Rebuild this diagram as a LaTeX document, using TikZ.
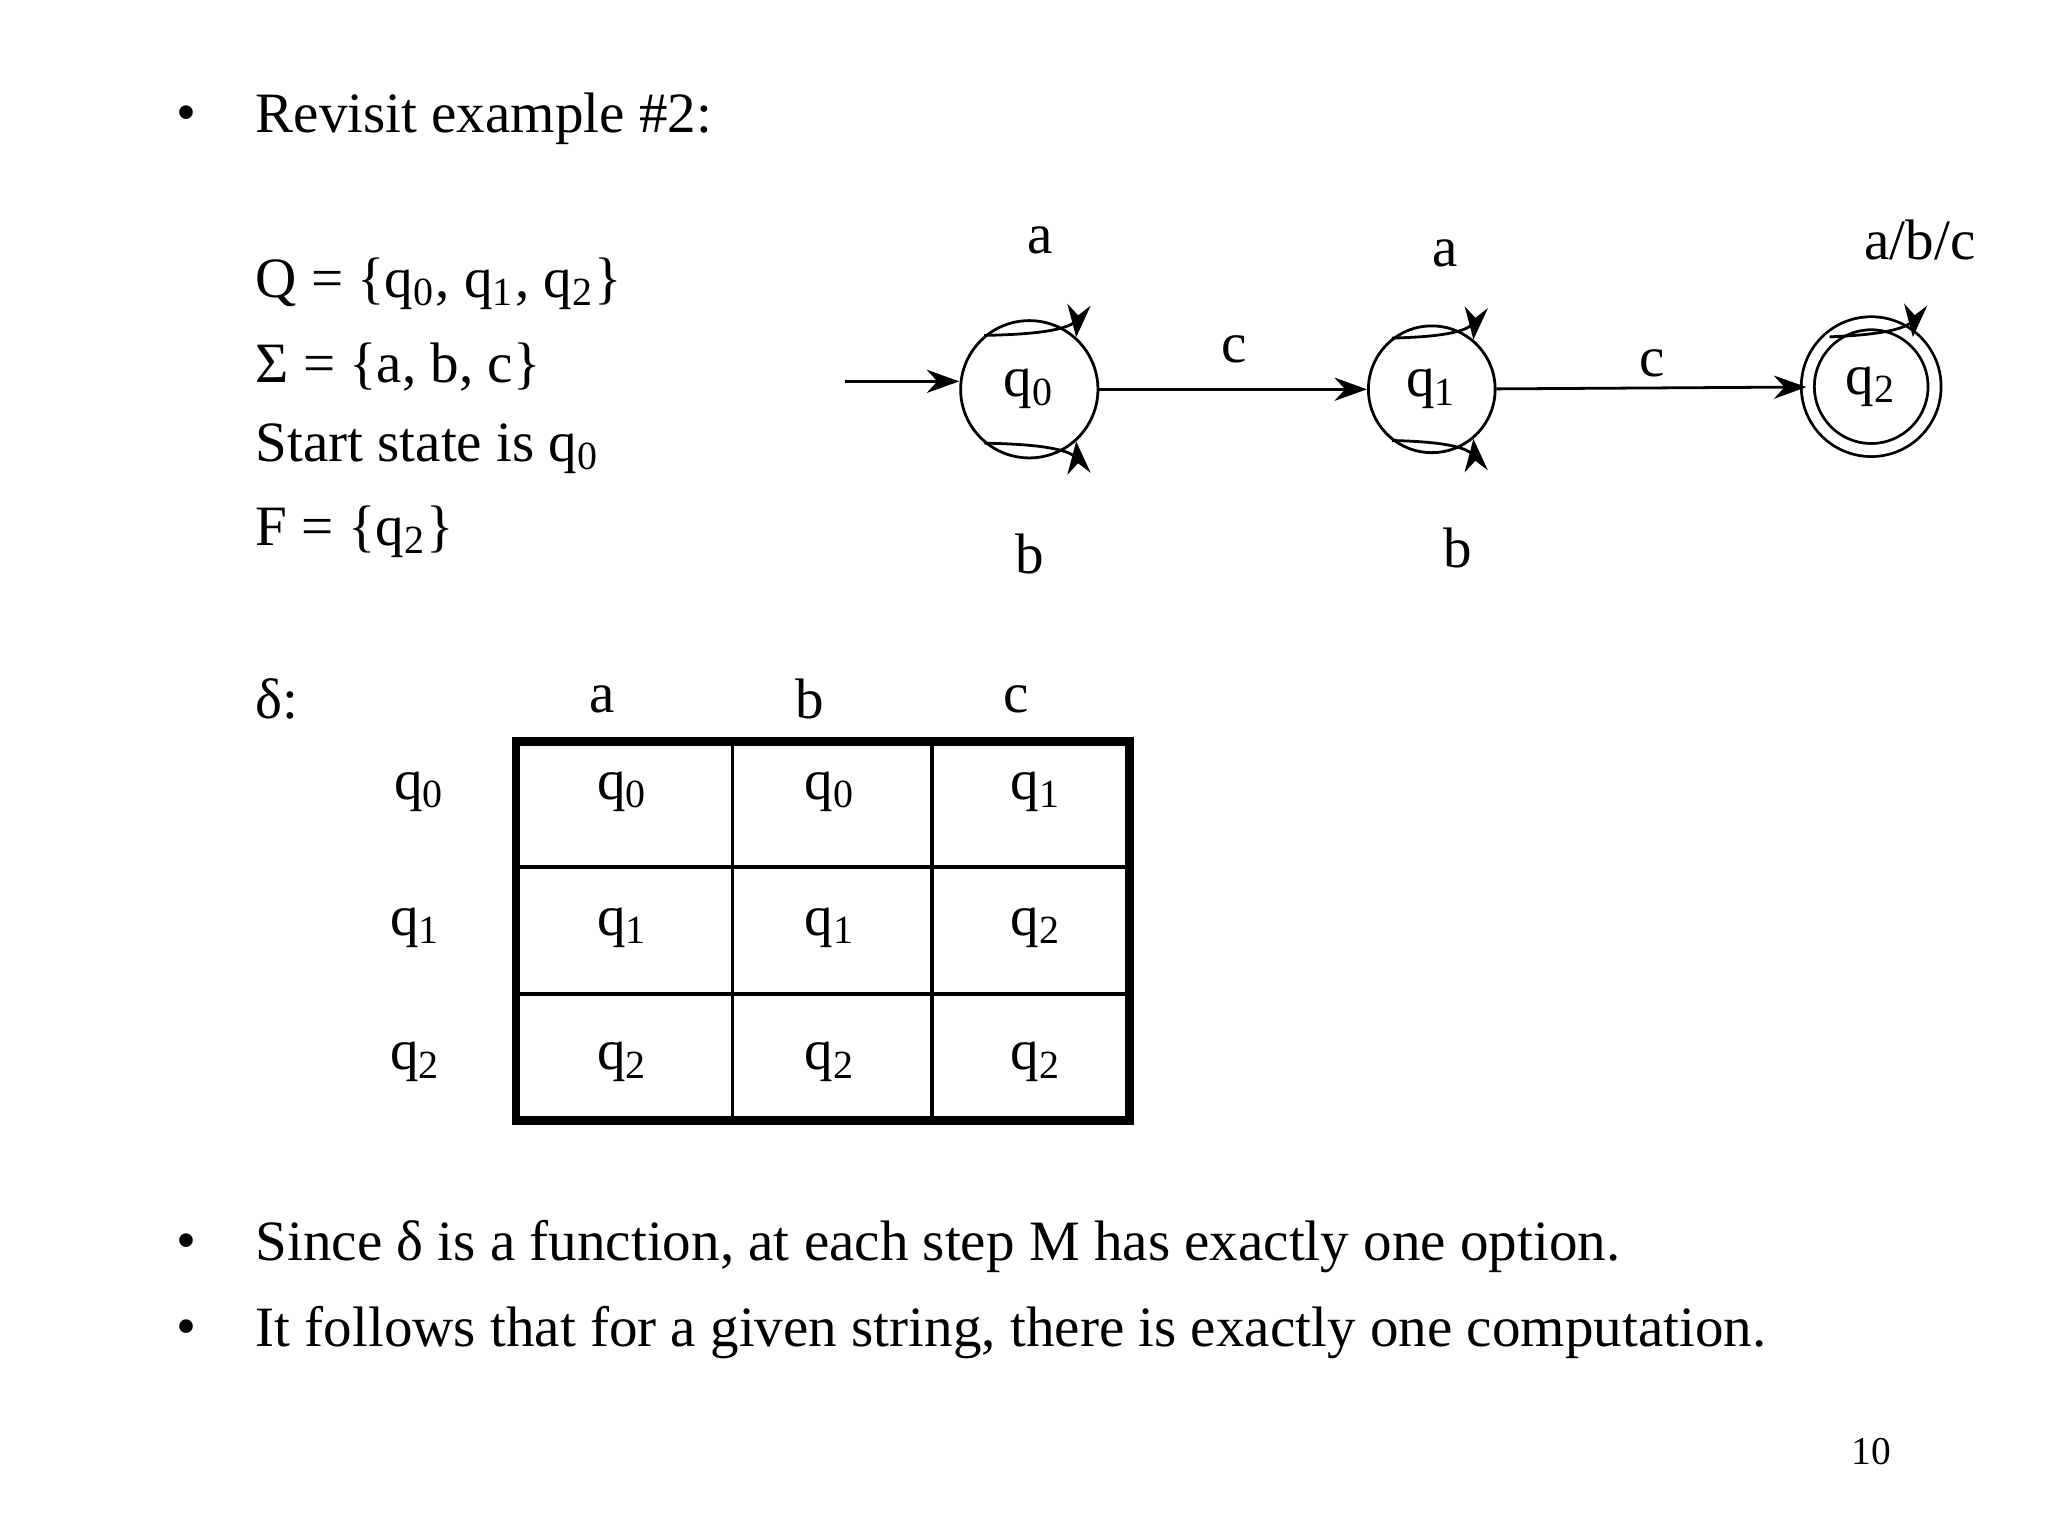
\documentclass[tikz,border=0pt]{standalone}
\usepackage{fontspec}
\setmainfont{Liberation Serif}
\usetikzlibrary{arrows.meta}
\begin{document}
\begin{tikzpicture}[x=0.01cm,y=-0.01cm,
  txt/.style={font=\fontsize{12.3}{15}\selectfont,inner sep=0pt},
  st/.style={circle,draw,line width=0.6pt,font=\fontsize{12.3}{15}\selectfont},
  arr/.style={-{Stealth[length=7pt,width=5pt]},line width=0.6pt},
  thk/.style={line width=1.8pt}]
\useasboundingbox (0,0) rectangle (1552,1164);
\newcommand{\qq}[1]{q\textsubscript{#1}}
\node[txt,anchor=west] (b1) at (133,90) {•};
\node[txt,anchor=west] (t1) at (193,90) {Revisit example \#2:};
\node[txt,anchor=west] (l1) at (193,215) {Q = \{\qq0, \qq1, \qq2\}};
\node[txt,anchor=west] (l2) at (193,278) {Σ = \{a, b, c\}};
\node[txt,anchor=west] (l3) at (193,340) {Start state is \qq0};
\node[txt,anchor=west] (l4) at (193,403) {F = \{\qq2\}};
% automaton
\node[st,minimum size=1.04cm] (q0) at (780,295) {\qq0};
\node[st,minimum size=0.96cm] (q1) at (1085,295) {\qq1};
\node[st,minimum size=0.96cm,double,double distance=2.2pt] (q2) at (1418,293) {\qq2};
\coordinate (s) at (640,289);
\draw[arr] (s) -- (q0.west|-s);
\draw[arr] (q0.east|-q1) -- (q1);
\draw[arr] (q1) -- (q2);
\node[txt] (c1) at (935,265) {c};
\node[txt] (c2) at (1252,275) {c};
\draw[arr] (q0.130) .. controls +(265:0.72) and +(275:0.72) .. (q0.48);
\draw[arr] (q0.230) .. controls +(95:0.72) and +(85:0.72) .. (q0.312);
\draw[arr] (q1.128) .. controls +(265:0.68) and +(275:0.68) .. (q1.50);
\draw[arr] (q1.232) .. controls +(95:0.68) and +(85:0.68) .. (q1.310);
\draw[arr] (q2.130) .. controls +(265:0.68) and +(275:0.68) .. (q2.50);
\node[txt] (la0) at (788,182) {a};
\node[txt] (lb0) at (780,420) {b};
\node[txt] (la1) at (1095,192) {a};
\node[txt] (lb1) at (1105,415) {b};
\node[txt] (la2) at (1455,182) {a/b/c};
% table
\node[txt,anchor=west] (d) at (193,530) {δ:};
\node[txt] (ca) at (456,530) {a};
\node[txt] (cb) at (614,530) {b};
\node[txt] (cc) at (770,530) {c};
\draw[line width=0.8pt] (555,562) -- (555,849) (706,562) -- (706,849) (391,657) -- (856,657) (391,753) -- (856,753);
\draw[thk] (391,562) rectangle (856,849);
\node[txt] (r0) at (318,600) {\qq0};
\node[txt] (r1) at (315,703) {\qq1};
\node[txt] (r2) at (315,805) {\qq2};
\node[txt] at (472,600) {\qq0};
\node[txt] at (629,600) {\qq0};
\node[txt] at (785,600) {\qq1};
\node[txt] at (472,703) {\qq1};
\node[txt] at (629,703) {\qq1};
\node[txt] at (785,703) {\qq2};
\node[txt] at (472,805) {\qq2};
\node[txt] at (629,805) {\qq2};
\node[txt] at (785,805) {\qq2};
% bottom bullets
\node[txt,anchor=west] (b2) at (133,945) {•};
\node[txt,anchor=west] (t2) at (193,945) {Since δ is a function, at each step M has exactly one option.};
\node[txt,anchor=west] (b3) at (133,1010) {•};
\node[txt,anchor=west] (t3) at (193,1010) {It follows that for a given string, there is exactly one computation.};
\node[inner sep=0pt,font=\fontsize{8.5}{10}\selectfont] (pg) at (1418,1100) {10};
\end{tikzpicture}
\end{document}
